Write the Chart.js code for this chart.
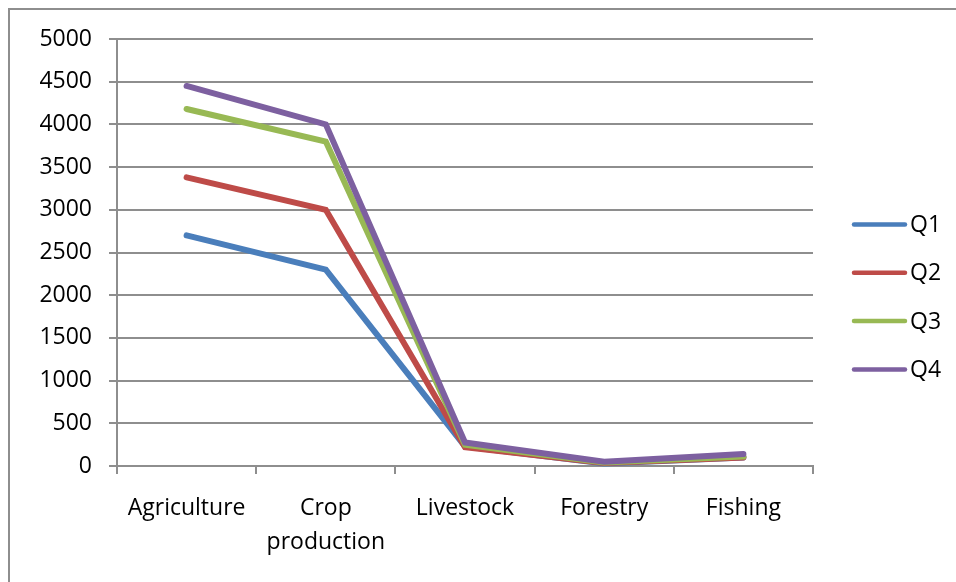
<!DOCTYPE html>
<html>
<head>
<meta charset="utf-8">
<script src="https://cdn.jsdelivr.net/npm/chart.js@4.4.1/dist/chart.umd.min.js"></script>
<style>
  html, body { margin: 0; padding: 0; background: #ffffff; }
  #wrap { width: 956px; height: 582px; }
</style>
</head>
<body>
<div id="wrap"><canvas id="c" width="956" height="582"></canvas></div>
<script>
// Sector output by quarter
const categories = ['Agriculture', ['Crop', 'production'], 'Livestock', 'Forestry', 'Fishing'];
const seriesNames = ['Q1', 'Q2', 'Q3', 'Q4'];
const q1 = [2700, 2300, 230, 30, 100];
const q2 = [3380, 3000, 220, 35, 100];
const q3 = [4180, 3800, 250, 40, 110];
const q4 = [4450, 4000, 275, 50, 140];
const yTicks = [0, 500, 1000, 1500, 2000, 2500, 3000, 3500, 4000, 4500, 5000];

const colors = ['#4a7ebb', '#be4b48', '#98b954', '#7d60a0'];
const gridColor = '#8e8e8e';
const fontFamily = '"Open Sans", "Noto Sans", sans-serif';
const fontSize = 23;

const seriesValues = [q1, q2, q3, q4];
const datasets = seriesNames.map((name, i) => ({
  label: name,
  data: seriesValues[i],
  borderColor: colors[i],
  backgroundColor: colors[i],
  borderWidth: 6,
  borderCapStyle: 'round',
  borderJoinStyle: 'miter',
  pointRadius: 0,
  pointHoverRadius: 0,
  tension: 0,
  fill: false,
  clip: false,
  // later quarters are painted over earlier ones
  order: seriesNames.length - 1 - i
}));

// Outer frame (left and top edges) of the chart box
const framePlugin = {
  id: 'frame',
  beforeDraw(chart) {
    const ctx = chart.ctx;
    ctx.save();
    ctx.strokeStyle = gridColor;
    ctx.lineWidth = 2;
    ctx.beginPath();
    ctx.moveTo(9, chart.height);
    ctx.lineTo(9, 9);
    ctx.lineTo(chart.width, 9);
    ctx.stroke();
    ctx.restore();
  }
};

// Legend on the right: short line swatch followed by the series name
const sideLegend = {
  id: 'sideLegend',
  afterDraw(chart) {
    const ctx = chart.ctx;
    const x0 = 854, x1 = 905, textX = 910;
    const yStart = 224.5, step = 48.3;
    ctx.save();
    ctx.font = fontSize + 'px ' + fontFamily;
    ctx.textBaseline = 'middle';
    ctx.textAlign = 'left';
    chart.data.datasets.forEach((ds, i) => {
      const y = yStart + i * step;
      ctx.strokeStyle = ds.borderColor;
      ctx.lineWidth = 4.5;
      ctx.lineCap = 'round';
      ctx.beginPath();
      ctx.moveTo(x0, y);
      ctx.lineTo(x1, y);
      ctx.stroke();
      ctx.fillStyle = '#000000';
      ctx.fillText(ds.label, textX, y + 1);
    });
    ctx.restore();
  }
};

new Chart(document.getElementById('c'), {
  type: 'line',
  data: { labels: categories, datasets },
  plugins: [framePlugin, sideLegend],
  options: {
    responsive: false,
    animation: false,
    devicePixelRatio: 1,
    layout: { padding: { left: 0, top: 39, right: 143, bottom: 0 } },
    plugins: {
      legend: { display: false },
      tooltip: { enabled: false }
    },
    scales: {
      x: {
        offset: true,
        afterFit(scale) { scale.height = 116; },
        grid: {
          offset: true,
          drawOnChartArea: false,
          drawTicks: true,
          tickLength: 8,
          color: gridColor,
          lineWidth: 2
        },
        border: { display: true, color: gridColor, width: 2 },
        ticks: {
          color: '#000000',
          font: { family: fontFamily, size: fontSize, lineHeight: 1.45 },
          padding: 18,
          maxRotation: 0,
          autoSkip: false
        }
      },
      y: {
        min: 0,
        max: 5000,
        afterFit(scale) { scale.width = 117; },
        afterBuildTicks(scale) { scale.ticks = yTicks.map(v => ({ value: v })); },
        grid: {
          drawTicks: true,
          tickLength: 8,
          color: gridColor,
          lineWidth: 2
        },
        border: { display: true, color: gridColor, width: 2 },
        ticks: {
          color: '#000000',
          font: { family: fontFamily, size: fontSize },
          padding: 17,
          callback: (v) => String(v)
        }
      }
    }
  }
});
</script>
</body>
</html>
